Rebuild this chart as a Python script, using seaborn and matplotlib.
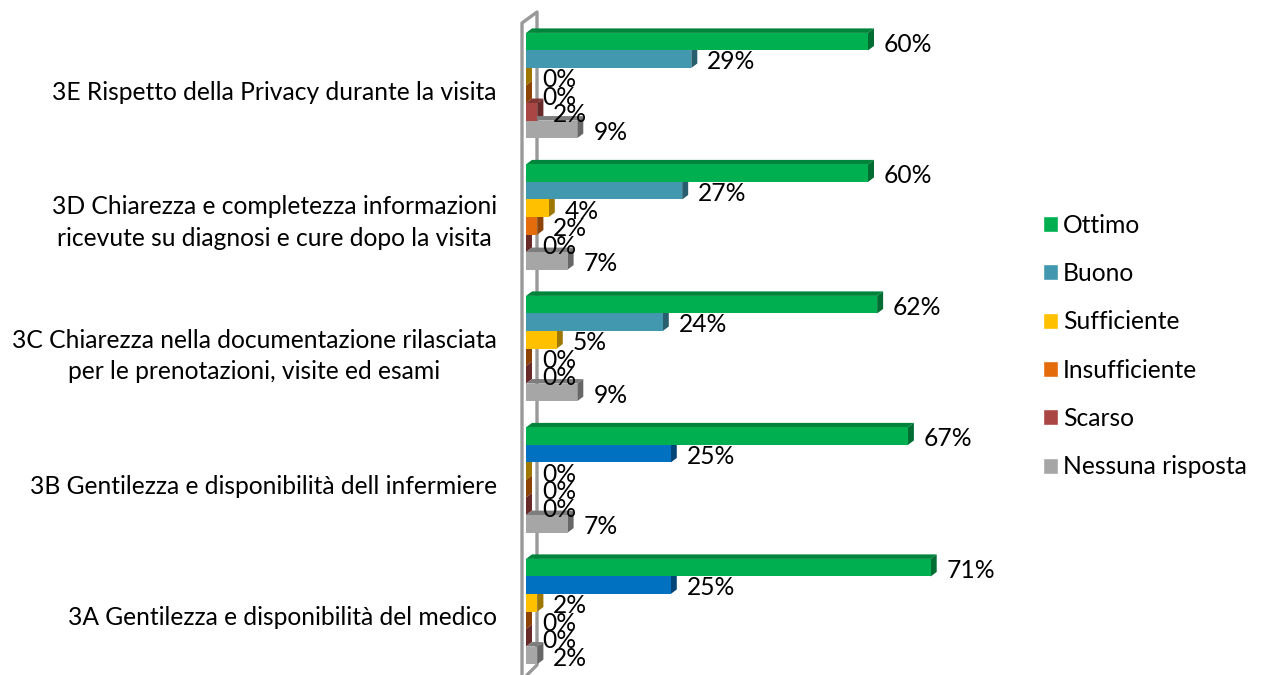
import matplotlib
matplotlib.use("Agg")
import matplotlib.pyplot as plt
import matplotlib.colors as mcolors
from matplotlib.patches import Polygon
from matplotlib.transforms import ScaledTranslation
import pandas as pd
import seaborn as sns

# Dati
domande = [
    "3E Rispetto della Privacy durante la visita",
    "3D Chiarezza e completezza informazioni\nricevute su diagnosi e cure dopo la visita",
    "3C Chiarezza nella documentazione rilasciata\nper le prenotazioni, visite ed esami",
    "3B Gentilezza e disponibilità dell infermiere",
    "3A Gentilezza e disponibilità del medico",
]
ottimo = [60, 60, 61.6, 67, 71]
buono = [29, 27.4, 24, 25.4, 25.4]
sufficiente = [0, 4, 5.4, 0, 2]
insufficiente = [0, 2, 0, 0, 0]
scarso = [2, 0, 0, 0, 0]
nessuna = [9, 7.3, 9, 7.3, 2]

giudizi = ["Ottimo", "Buono", "Sufficiente", "Insufficiente", "Scarso", "Nessuna risposta"]
serie = [ottimo, buono, sufficiente, insufficiente, scarso, nessuna]
colori = ["#00B050", "#4198AF", "#FFC000", "#E46C0A", "#AA4643", "#A6A6A6"]
BLU_SCURO = "#0070C0"

# Geometria in pixel della figura
W, H = 1261, 675
X0 = 526
PX_PCT = 5.7
Y_PRIMO = 85.5
PX_GRUPPO = 131.5
DEPTH_X = 6 / PX_PCT
DEPTH_Y = 4.5 / PX_GRUPPO
FONT = 17.7
SHIFT_ETICHETTE = [5, -1, 1, 5, 4]

rows = []
for giudizio, valori in zip(giudizi, serie):
    for domanda, valore in zip(domande, valori):
        rows.append({"domanda": domanda, "giudizio": giudizio, "valore": valore})
df = pd.DataFrame(rows)

sns.set_theme(style="white")
plt.rcParams["font.family"] = ["Lato", "DejaVu Sans"]

fig = plt.figure(figsize=(W / 100, H / 100), dpi=100)
ax = fig.add_axes([X0 / W, 0, (1010 - X0) / W, 1])
ax.patch.set_visible(False)

sns.barplot(
    data=df, y="domanda", x="valore", hue="giudizio", order=domande, hue_order=giudizi,
    palette=dict(zip(giudizi, colori)), orient="h", width=0.8, gap=0,
    saturation=1, errorbar=None, ax=ax,
)

# Facce laterali e superiori per l'effetto 3D: il fronte delle barre resta sopra
for h, container in enumerate(ax.containers):
    for c, bar in enumerate(container):
        if h == 1 and c >= 3:
            bar.set_facecolor(BLU_SCURO)
        rgb = mcolors.to_rgb(bar.get_facecolor())
        side = tuple(v * 0.62 for v in rgb)
        top = tuple(v * 0.75 for v in rgb)
        bar.set_linewidth(0)
        bar.set_zorder(15)
        x, y, w, bh = bar.get_x(), bar.get_y(), bar.get_width(), bar.get_height()
        ax.add_patch(Polygon(
            [(x, y), (x + DEPTH_X, y - DEPTH_Y), (x + w + DEPTH_X, y - DEPTH_Y), (x + w, y)],
            facecolor=top, linewidth=0, zorder=5 + h,
        ))
        ax.add_patch(Polygon(
            [(x + w, y), (x + w + DEPTH_X, y - DEPTH_Y),
             (x + w + DEPTH_X, y + bh - DEPTH_Y), (x + w, y + bh)],
            facecolor=side, linewidth=0, zorder=5 + h,
        ))
    testi = ax.bar_label(container, fmt="%.0f%%", padding=11.5, fontsize=FONT, color="black", zorder=20)
    for t in testi:
        t.xyann = (t.xyann[0], t.xyann[1] - 2)

# Parete grigia del grafico
parete = [(522, 675), (522, 23), (537, 12), (537, 665), (527, 675)]
ax.plot([p[0] / W for p in parete], [1 - p[1] / H for p in parete],
        transform=fig.transFigure, color="#999999", linewidth=2.4, clip_on=False, zorder=1)

ax.set_xlim(0, (1010 - X0) / PX_PCT)
ax.set_ylim((H - Y_PRIMO) / PX_GRUPPO, -Y_PRIMO / PX_GRUPPO)
ax.set_xlabel("")
ax.set_ylabel("")
ax.set_xticks([])
sns.despine(ax=ax, left=True, bottom=True)
ax.tick_params(axis="y", length=0, pad=21)

for label, dy in zip(ax.get_yticklabels(), SHIFT_ETICHETTE):
    label.set_fontsize(FONT)
    label.set_color("black")
    label.set_multialignment("center")
    label.set_linespacing(1.45)
    label.set_transform(label.get_transform() + ScaledTranslation(0, -dy / 100, fig.dpi_scale_trans))

handles, labels = ax.get_legend_handles_labels()
ax.get_legend().remove()
fig.legend(
    handles, labels, loc="center left", bbox_to_anchor=(1023 / W, 1 - 346 / H),
    frameon=False, fontsize=FONT, handlelength=0.62, handleheight=0.62,
    handletextpad=0.2, labelspacing=1.03, labelcolor="black", borderpad=0.3,
)

plt.savefig("out.png", dpi=100)
